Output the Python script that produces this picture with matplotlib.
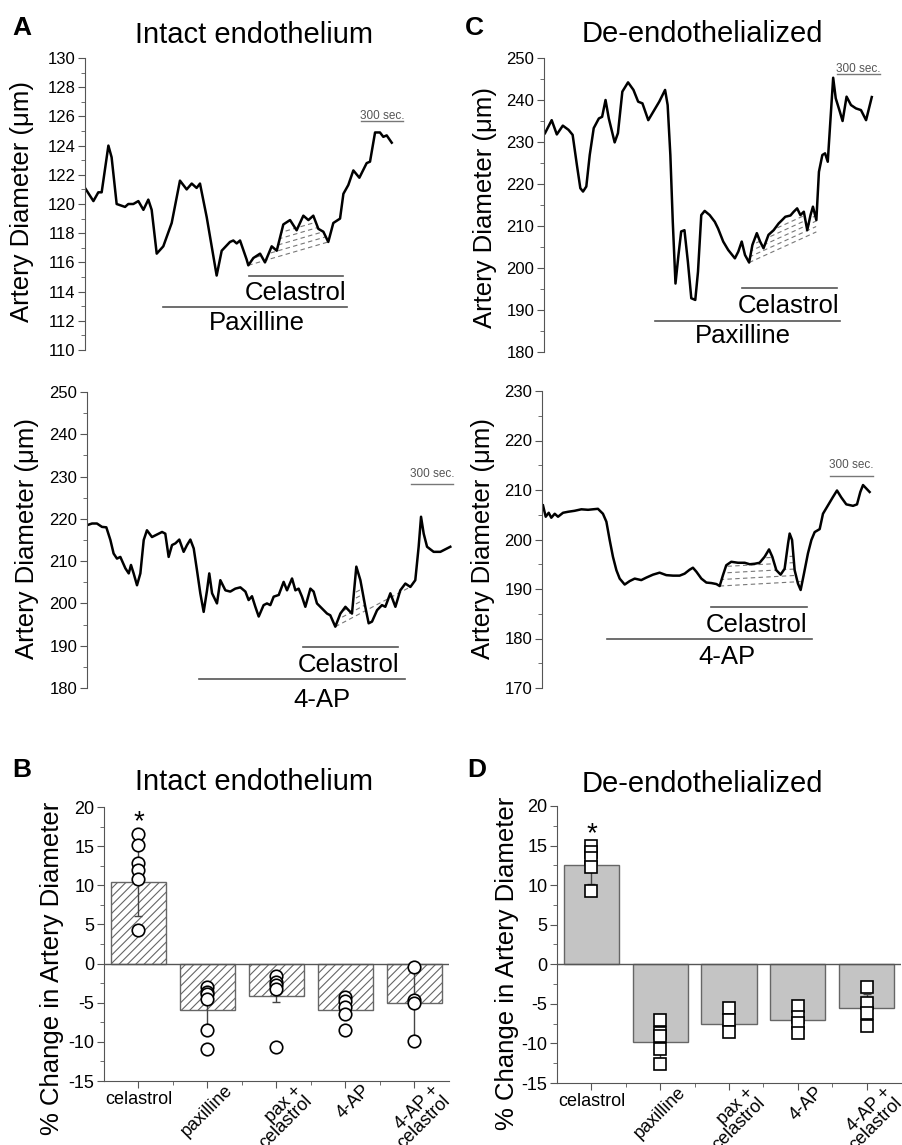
"""Artery diameter traces (A, C) and summary bar charts (B, D)."""

import matplotlib
matplotlib.use("Agg")
import matplotlib.pyplot as plt  # noqa: E402
import numpy as np  # noqa: E402
from matplotlib.path import Path  # noqa: E402
from matplotlib.ticker import MultipleLocator  # noqa: E402

plt.rcParams["font.family"] = ["Liberation Sans", "DejaVu Sans"]
plt.rcParams["hatch.linewidth"] = 0.8
plt.rcParams["axes.unicode_minus"] = False

W, H = 903, 1145
GRAY = "#555555"

# ---- traces: time (s) and diameter (um) ----
a_top_t = [0, 60, 95, 119, 167, 190, 226, 286, 309, 345, 381, 417, 452, 476, 512, 559, 619, 678, 726, 762,
           797, 821, 869, 940, 976, 1035, 1059, 1083, 1107, 1154, 1166, 1202, 1250, 1285, 1333, 1369, 1416,
           1464, 1511, 1559, 1595, 1630, 1666, 1702, 1737, 1773, 1821, 1845, 1880, 1916, 1959, 2011, 2035,
           2071, 2106, 2130, 2154, 2190]
a_top_d = [121.1, 120.2, 120.8, 120.8, 124.0, 123.2, 120.0, 119.8, 120.0, 120.0, 120.2, 119.6, 120.3, 119.6,
           116.6, 117.1, 118.7, 121.6, 121.0, 121.4, 121.1, 121.4, 119.1, 115.1, 116.8, 117.4, 117.5, 117.3,
           117.5, 116.2, 115.8, 116.3, 116.6, 116.0, 117.1, 116.8, 118.6, 118.9, 118.2, 119.2, 118.9, 119.2,
           118.3, 118.1, 117.4, 118.7, 119.0, 120.7, 121.3, 122.3, 121.8, 122.8, 122.9, 124.9, 124.9, 124.6,
           124.7, 124.2]

a_bot_t = [0, 36, 71, 107, 138, 167, 190, 214, 238, 274, 298, 314, 333, 357, 381, 405, 428, 464, 488, 512,
           536, 559, 583, 607, 631, 659, 690, 714, 738, 762, 785, 809, 833, 857, 873, 893, 928, 952, 988, 1023,
           1059, 1095, 1131, 1154, 1178, 1202, 1226, 1261, 1285, 1309, 1333, 1369, 1404, 1428, 1464, 1488,
           1511, 1535, 1559, 1595, 1618, 1642, 1678, 1714, 1737, 1773, 1809, 1845, 1868, 1892, 1923, 1952,
           1987, 2011, 2035, 2071, 2106, 2130, 2166, 2202, 2237, 2273, 2309, 2344, 2368, 2385, 2404, 2428,
           2475, 2523, 2594]
a_bot_d = [218.5, 218.9, 218.9, 218.1, 218.0, 215.0, 211.8, 210.6, 211.0, 208.3, 207.1, 209.1, 207.1, 204.3,
           207.1, 215.0, 217.3, 215.7, 216.1, 216.5, 216.9, 216.5, 211.0, 213.8, 214.2, 215.1, 212.2, 213.8,
           215.1, 213.0, 207.9, 202.4, 198.0, 203.1, 207.1, 202.4, 200.0, 205.5, 203.1, 202.8, 203.5, 203.8,
           202.8, 200.8, 201.7, 199.2, 196.9, 199.6, 200.0, 199.6, 201.6, 202.0, 205.1, 203.1, 205.9, 203.1,
           203.5, 201.6, 199.2, 203.5, 202.8, 200.0, 198.8, 197.6, 197.2, 194.5, 197.6, 199.2, 198.4, 197.6,
           208.7, 205.5, 199.2, 195.3, 195.7, 198.4, 199.6, 199.2, 202.4, 199.2, 203.1, 204.7, 203.9, 205.5,
           213.4, 220.5, 216.5, 213.4, 212.2, 212.2, 213.4]

c_top_t = [7, 54, 90, 132, 172, 201, 231, 255, 274, 297, 321, 349, 385, 408, 432, 455, 496, 519, 550, 590,
           628, 661, 691, 732, 774, 809, 850, 868, 887, 904, 923, 944, 963, 986, 1010, 1034, 1062, 1081, 1104,
           1128, 1163, 1199, 1222, 1258, 1293, 1340, 1364, 1388, 1411, 1440, 1463, 1494, 1517, 1541, 1576,
           1612, 1647, 1671, 1694, 1730, 1753, 1777, 1800, 1824, 1848, 1871, 1888, 1912, 1930, 1954, 1973,
           1992, 2013, 2030, 2048, 2077, 2096, 2124, 2155, 2190, 2225, 2261, 2301]
c_top_d = [232.1, 235.2, 231.8, 233.9, 232.9, 231.7, 224.5, 219.0, 218.2, 219.4, 226.9, 233.3, 235.6, 236.0,
           240.0, 235.6, 229.9, 232.1, 242.0, 244.2, 242.4, 239.6, 239.2, 235.2, 237.6, 239.6, 242.4, 238.8,
           226.9, 211.0, 196.3, 203.1, 208.7, 209.0, 201.5, 192.8, 192.4, 199.1, 212.6, 213.6, 212.6, 211.0,
           209.4, 206.3, 204.3, 202.3, 203.9, 206.3, 203.1, 201.3, 205.5, 208.3, 206.3, 204.7, 207.9, 209.0,
           210.6, 211.4, 212.2, 212.5, 213.4, 214.2, 212.6, 213.4, 209.0, 212.6, 214.6, 211.4, 222.9, 226.9,
           227.3, 225.3, 236.4, 245.3, 240.4, 237.2, 235.0, 240.8, 238.8, 238.0, 237.6, 235.2, 240.7]

c_bot_t = [7, 26, 47, 65, 89, 112, 147, 182, 228, 275, 322, 356, 391, 426, 450, 473, 496, 520, 543, 578,
           613, 648, 694, 729, 776, 822, 869, 916, 962, 997, 1032, 1055, 1079, 1114, 1149, 1184, 1219, 1242,
           1265, 1288, 1323, 1370, 1417, 1452, 1487, 1521, 1556, 1587, 1610, 1638, 1668, 1696, 1720, 1731,
           1748, 1766, 1789, 1808, 1829, 1859, 1883, 1906, 1941, 1964, 1999, 2034, 2062, 2092, 2127, 2174,
           2202, 2225, 2244, 2267, 2290]
c_bot_d = [206.9, 204.6, 205.4, 204.4, 205.2, 204.6, 205.4, 205.6, 205.8, 206.1, 206.0, 206.1, 206.2, 205.2,
           203.6, 199.9, 196.5, 193.8, 192.1, 190.9, 191.6, 192.1, 191.8, 192.3, 192.9, 193.3, 192.8, 192.7,
           192.7, 193.1, 193.9, 194.3, 193.5, 192.1, 191.3, 191.2, 191.0, 190.6, 192.8, 194.8, 195.5, 195.3,
           195.3, 195.0, 195.1, 195.3, 196.5, 198.0, 196.5, 193.8, 192.9, 194.1, 199.2, 201.2, 199.9, 193.8,
           191.1, 189.8, 192.8, 197.2, 199.9, 201.5, 202.1, 205.2, 206.9, 208.6, 209.9, 208.5, 207.1, 206.8,
           207.1, 209.6, 211.0, 210.3, 209.6]

# drug application periods: (name, start s, end s)
a_top_drugs = [("Celastrol", 1173, 1845), ("Paxilline", 557, 1871)]
a_bot_drugs = [("Celastrol", 1542, 2221), ("4-AP", 800, 2271)]
c_top_drugs = [("Celastrol", 1390, 2057), ("Paxilline", 779, 2078)]
c_bot_drugs = [("Celastrol", 1181, 1852), ("4-AP", 454, 1887)]

# ---- summary bars: % change in diameter ----
cats = ["celastrol", "paxilline", "pax +\ncelastrol", "4-AP", "4-AP +\ncelastrol"]
b_mean = [10.4, -5.9, -4.1, -5.9, -5.1]
b_err = [4.3, 2.9, 0.8, 0.7, 4.2]
b_pts = [[16.6, 15.2, 12.8, 12.0, 10.8, 4.3],
         [-3.0, -3.6, -3.9, -4.5, -8.5, -10.9],
         [-1.6, -2.3, -2.8, -3.3, -10.6],
         [-4.3, -4.8, -5.5, -6.5, -8.5],
         [-0.4, -4.7, -5.1, -9.9]]
d_mean = [12.6, -9.8, -7.6, -7.1, -5.5]
d_err = [2.5, 2.0, 1.1, 1.3, 1.8]
d_pts = [[15.0, 14.2, 13.4, 12.3, 9.2],
         [-7.0, -8.7, -9.1, -10.7, -12.6],
         [-5.5, -7.1, -8.5],
         [-5.3, -6.6, -7.4, -8.7],
         [-2.9, -4.9, -6.2, -7.8]]

fig = plt.figure(figsize=(W / 100, H / 100), dpi=100)


def px_axes(left, top, width, height):
    return fig.add_axes([left / W, 1 - (top + height) / H, width / W, height / H])


def ftext(x, y, s, **kw):
    fig.text(x / W, 1 - y / H, s, **kw)


def trace_axes(left, top, height, width, sec_per_px, ylim, major, minor):
    ax = px_axes(left, top, width, height)
    ax.set_xlim(0, width * sec_per_px)
    ax.set_ylim(*ylim)
    for s in ("top", "right", "bottom"):
        ax.spines[s].set_visible(False)
    ax.spines["left"].set_color(GRAY)
    ax.xaxis.set_visible(False)
    ax.yaxis.set_major_locator(MultipleLocator(major))
    ax.yaxis.set_minor_locator(MultipleLocator(minor))
    ax.tick_params(axis="y", which="major", length=5, color=GRAY, labelsize=12, pad=2)
    ax.tick_params(axis="y", which="minor", length=3, color=GRAY)
    ax.patch.set_alpha(0)
    return ax


def hatch(ax, t, d, base, step, n):
    (t0, v0), (t1, v1) = base
    t = np.asarray(t, float)
    d = np.asarray(d, float)
    line = np.interp(t, [t0, t1], [v0, v1])
    mask = (t >= t0) & (t <= t1) & (d >= line)
    poly = ax.fill_between(t, line, d, where=mask, interpolate=True,
                           facecolor="none", edgecolor="none")
    clip = Path.make_compound_path(*poly.get_paths())
    for k in range(n):
        ln, = ax.plot([t0, t1], [v0 + k * step, v1 + k * step], color="#777777",
                      lw=0.8, dashes=(4, 3))
        if k:
            ln.set_clip_path(clip, ax.transData)


def drugs(ax, bars, levels, labels):
    for (name, t0, t1), y, (tx, ty) in zip(bars, levels, labels):
        ax.plot([t0, t1], [y, y], color=GRAY, lw=1.2, clip_on=False)
        ax.text(tx, ty, name, ha="center", va="baseline", fontsize=18.5, clip_on=False)


def scale_bar(ax, t0, y, ty):
    ax.plot([t0, t0 + 300], [y, y], color="#777777", lw=1.0, clip_on=False)
    ax.text(t0 + 150, ty, "300 sec.", ha="center", va="baseline", fontsize=8.5,
            color="#555555")


# A top
ax = trace_axes(85, 58, 292, 370, 7.14, (110, 130), 2, 1)
hatch(ax, a_top_t, a_top_d, ((1166, 115.8), (1737, 117.4)), 0.4, 5)
ax.plot(a_top_t, a_top_d, color="black", lw=1.8, solid_joinstyle="round")
drugs(ax, a_top_drugs, [115.1, 112.97], [(1500, 113.45), (1226, 111.38)])
scale_bar(ax, 1971, 125.7, 125.85)

# A bottom
ax = trace_axes(87, 392, 296, 370, 7.14, (180, 250), 10, 5)
hatch(ax, a_bot_t, a_bot_d, ((1773, 194.5), (2309, 203.9)), 1.4, 5)
ax.plot(a_bot_t, a_bot_d, color="black", lw=1.8, solid_joinstyle="round")
drugs(ax, a_bot_drugs, [189.8, 182.2], [(1871, 183.9), (1678, 175.6)])
scale_bar(ax, 2313, 228.3, 230.0)

# C top
ax = trace_axes(544, 58, 294, 355, 7.02, (180, 250), 10, 5)
hatch(ax, c_top_t, c_top_d, ((1440, 201.3), (1912, 208.6)), 1.3, 5)
ax.plot(c_top_t, c_top_d, color="black", lw=1.8, solid_joinstyle="round")
drugs(ax, c_top_drugs, [195.2, 187.5], [(1720, 189.3), (1397, 182.2)])
scale_bar(ax, 2057, 246.3, 246.7)

# C bottom
ax = trace_axes(542, 391, 297, 355, 6.99, (170, 230), 10, 5)
hatch(ax, c_bot_t, c_bot_d, ((1242, 190.6), (1808, 191.5)), 1.3, 5)
ax.plot(c_bot_t, c_bot_d, color="black", lw=1.8, solid_joinstyle="round")
drugs(ax, c_bot_drugs, [186.4, 179.9], [(1503, 181.3), (1293, 174.8)])
scale_bar(ax, 2013, 212.8, 214.4)


def bar_panel(left, top, width, height, means, errs, pts, marker, face, hatch_pat, star_y, ms):
    ax = px_axes(left, top, width, height)
    x = np.arange(len(cats))
    ax.bar(x, means, 0.8, color=face, edgecolor="#666666", lw=1.0, hatch=hatch_pat, zorder=2)
    ax.axhline(0, color=GRAY, lw=1.0, zorder=2.5)
    ax.errorbar(x, means, yerr=errs, fmt="none", ecolor="#444444", elinewidth=1.0,
                capsize=3, capthick=1.0, zorder=3)
    for i, vals in enumerate(pts):
        ax.plot(np.full(len(vals), i), vals, marker, ls="none", mfc="white", mec="black",
                ms=ms, mew=1.2, zorder=4)
    ax.text(0, star_y, "*", ha="center", va="baseline", fontsize=20)
    ax.set_xlim(-0.5, 4.5)
    ax.set_ylim(-15, 20)
    for s in ("top", "right"):
        ax.spines[s].set_visible(False)
    for s in ("left", "bottom"):
        ax.spines[s].set_color(GRAY)
    ax.yaxis.set_major_locator(MultipleLocator(5))
    ax.yaxis.set_minor_locator(MultipleLocator(2.5))
    ax.set_xticks(x)
    ax.set_xticks(np.arange(0.5, 4.5, 1), minor=True)
    ax.set_xticklabels([])
    ax.tick_params(which="major", length=5, color=GRAY, labelsize=13, pad=2)
    ax.tick_params(which="minor", length=3, color=GRAY)
    tr = ax.get_xaxis_transform()
    ax.text(0, -0.035, cats[0], ha="center", va="top", fontsize=13, transform=tr)
    for i in range(1, len(cats)):
        ax.text(i + 0.24, -0.004, cats[i], ha="right", va="top", rotation=45,
                rotation_mode="anchor", fontsize=13, linespacing=0.85,
                multialignment="right", transform=tr)
    ax.patch.set_alpha(0)
    return ax


bar_panel(104, 807, 345, 274, b_mean, b_err, b_pts, "o", "white", "////", 17.2, 9)
bar_panel(557, 806, 344, 277, d_mean, d_err, d_pts, "s", "#c4c4c4", None, 15.6, 8)

# titles, panel letters, axis labels
for x, y, s in [(254, 43, "Intact endothelium"), (702, 42, "De-endothelialized"),
                (254, 790, "Intact endothelium"), (702, 792, "De-endothelialized")]:
    ftext(x, y, s, ha="center", va="baseline", fontsize=21)
for x, y, s in [(12, 35, "A"), (465, 35, "C"), (12, 777, "B"), (467, 777, "D")]:
    ftext(x, y, s, ha="left", va="baseline", fontsize=19, fontweight="bold")
for x, y in [(22, 201), (27, 538), (485, 207), (483, 539)]:
    ftext(x, y, "Artery Diameter (μm)", ha="center", va="center", rotation=90, fontsize=18.5)
for x, y in [(52, 968), (507, 963)]:
    ftext(x, y, "% Change in Artery Diameter", ha="center", va="center", rotation=90,
          fontsize=18.5)

fig.savefig("out.png", dpi=100)
